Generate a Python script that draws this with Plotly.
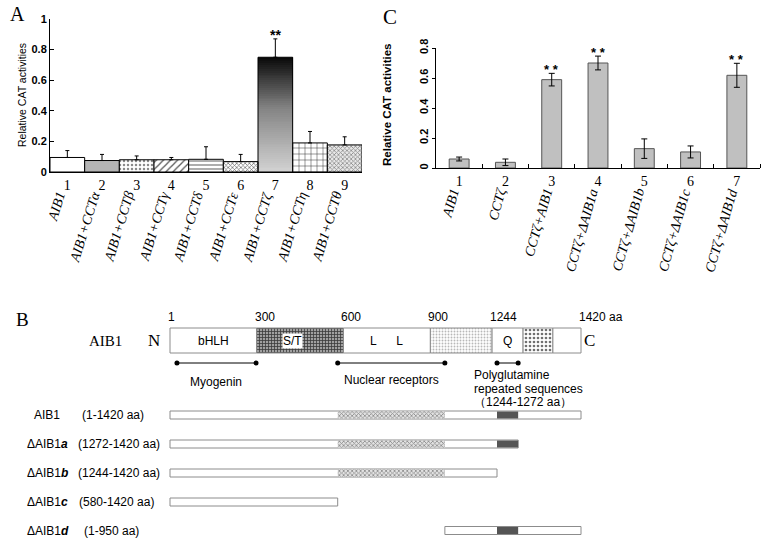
import numpy as np
import plotly.graph_objects as go

W, H = 766, 543
SERIF = "Liberation Serif"
SANS = "Liberation Sans"

# ---------------- data: panel A ----------------
A_nums = ["1", "2", "3", "4", "5", "6", "7", "8", "9"]
A_labels = ["AIB1", "AIB1+CCTα", "AIB1+CCTβ", "AIB1+CCTγ", "AIB1+CCTδ",
            "AIB1+CCTε", "AIB1+CCTζ", "AIB1+CCTη", "AIB1+CCTθ"]
A_values = [0.095, 0.075, 0.08, 0.08, 0.083, 0.068, 0.75, 0.19, 0.177]
A_err = [0.045, 0.04, 0.025, 0.015, 0.082, 0.047, 0.12, 0.075, 0.053]
A_sig = [6]
A_yticks = [0, 0.2, 0.4, 0.6, 0.8, 1]
A_yticktext = ["0", "0.2", "0.4", "0.6", "0.8", "1"]

# ---------------- data: panel C ----------------
C_nums = ["1", "2", "3", "4", "5", "6", "7"]
C_labels = ["AIB1", "CCTζ", "CCTζ+AIB1", "CCTζ+ΔAIB1a", "CCTζ+ΔAIB1b",
            "CCTζ+ΔAIB1c", "CCTζ+ΔAIB1d"]
C_values = [0.06, 0.038, 0.589, 0.70, 0.129, 0.107, 0.618]
C_err = [0.013, 0.022, 0.042, 0.046, 0.065, 0.04, 0.08]
C_sig = [2, 3, 6]
C_yticks = [0, 0.2, 0.4, 0.6, 0.8]
C_yticktext = ["0", "0.2", "0.4", "0.6", "0.8"]

# ---------------- data: panel B (schematic aa positions) ----------------
B_landmarks = ["1", "300", "600", "900", "1244", "1420 aa"]
B_landmark_pos = [1, 300, 600, 900, 1113, 1420]   # drawn (schematic) positions
B_dom_label = ["bHLH", "S/T", "L      L", "", "Q", "", ""]
B_dom_start = [1, 300, 600, 900, 1113, 1220, 1323]
B_dom_end = [300, 600, 900, 1113, 1220, 1323, 1420]
B_int_names = ["Myogenin", "Nuclear receptors", "Polyglutamine"]
B_int_start = [25, 580, 1130]
B_int_end = [298, 950, 1203]
B_con_names = ["AIB1", "ΔAIB1<b><i>a</i></b>", "ΔAIB1<b><i>b</i></b>",
               "ΔAIB1<b><i>c</i></b>", "ΔAIB1<b><i>d</i></b>"]
B_con_ranges = ["(1-1420 aa)", "(1272-1420 aa)", "(1244-1420 aa)",
                "(580-1420 aa)", "(1-950 aa)"]
B_con_start = [1, 1, 1, 1, 950]
B_con_end = [1420, 1203, 1130, 580, 1420]
B_nr_region = (580, 950)
B_polyq_region = (1130, 1203)


def fx(px):
    return px / W


def fy(py):
    return 1 - py / H


fig = go.Figure()

# ---------- panel A ----------
grad_bar = 6
nb = 60
fig.add_trace(go.Heatmap(
    x=[grad_bar - 0.5, grad_bar + 0.5],
    y=np.linspace(0, A_values[grad_bar], nb + 1),
    z=np.linspace(0, 1, nb).reshape(-1, 1),
    colorscale=[[0, "#d2d2d2"], [0.55, "#858585"], [1, "#0a0a0a"]],
    zmin=0, zmax=1, showscale=False, hoverinfo="skip",
    xaxis="x", yaxis="y"))

A_colors = ["white", "#b4b4b4", "white", "white", "white", "white",
            "rgba(0,0,0,0)", "white", "#e8e8e8"]
A_shapes = ["", "", ".", "/", "-", "x", "", "+", "x"]
A_fg = ["black", "black", "#8a8a8a", "#555555", "#777777", "#666666",
        "black", "#222222", "#8a8a8a"]
A_size = [6, 6, 4, 5, 4, 3, 6, 6, 3]
A_sol = [0.3, 0.3, 0.3, 0.25, 0.3, 0.4, 0.3, 0.15, 0.45]

for i, (v, e) in enumerate(zip(A_values, A_err)):
    pat = dict(shape=A_shapes[i], fgcolor=A_fg[i], bgcolor=A_colors[i],
               size=A_size[i], solidity=A_sol[i]) if A_shapes[i] else dict(shape="")
    fig.add_trace(go.Bar(
        x=[i], y=[v], width=1,
        marker=dict(color=A_colors[i], line=dict(color="black", width=1), pattern=pat),
        error_y=dict(type="data", array=[e], arrayminus=[0], symmetric=False,
                     color="black", thickness=1, width=2),
        xaxis="x", yaxis="y", hoverinfo="skip"))

# ---------- panel C ----------
fig.add_trace(go.Bar(
    x=list(range(len(C_values))), y=C_values, width=0.43,
    marker=dict(color="#c0c0c0", line=dict(color="#555555", width=1)),
    error_y=dict(type="data", array=C_err, color="black", thickness=1, width=3),
    xaxis="x2", yaxis="y2", hoverinfo="skip"))

# ---------- panel B ----------
ROW_MAIN = 340.5
H_MAIN = 25
ROW_CON = [415, 444, 473, 502, 530.5]
H_CON = 8
LINE_Y = 363

dom_colors = ["white", "#a0a0a0", "white", "white", "white", "white", "white"]
dom_shapes = ["", "+", "", ".", "", ".", ""]
dom_fg = ["black", "#3a3a3a", "black", "#b8b8b8", "black", "#707070", "black"]
dom_size = [4, 3, 4, 3, 4, 4, 4]
dom_sol = [0.3, 0.45, 0.3, 0.3, 0.3, 0.35, 0.3]
for i, (s, e) in enumerate(zip(B_dom_start, B_dom_end)):
    pat = dict(shape=dom_shapes[i], fgcolor=dom_fg[i], bgcolor=dom_colors[i],
               size=dom_size[i], solidity=dom_sol[i]) if dom_shapes[i] else dict(shape="")
    fig.add_trace(go.Bar(
        orientation="h", base=[s], x=[e - s], y=[ROW_MAIN], width=[H_MAIN],
        marker=dict(color=dom_colors[i], line=dict(color="#8c8c8c", width=1), pattern=pat),
        xaxis="x3", yaxis="y3", hoverinfo="skip"))

fig.add_trace(go.Bar(
    orientation="h", base=B_con_start,
    x=[e - s for s, e in zip(B_con_start, B_con_end)],
    y=ROW_CON, width=[H_CON] * len(ROW_CON),
    marker=dict(color="white", line=dict(color="#8c8c8c", width=1)),
    xaxis="x3", yaxis="y3", hoverinfo="skip"))

for s, e, r in zip(B_con_start, B_con_end, ROW_CON):
    a, b = max(s, B_nr_region[0]), min(e, B_nr_region[1])
    if b > a:
        fig.add_trace(go.Bar(
            orientation="h", base=[a], x=[b - a], y=[r], width=[H_CON - 1],
            marker=dict(color="#e0e0e0", line=dict(width=0),
                        pattern=dict(shape="x", fgcolor="#8a8a8a", bgcolor="#e2e2e2",
                                     size=3, solidity=0.45)),
            xaxis="x3", yaxis="y3", hoverinfo="skip"))
    a, b = max(s, B_polyq_region[0]), min(e, B_polyq_region[1])
    if b > a:
        fig.add_trace(go.Bar(
            orientation="h", base=[a], x=[b - a], y=[r], width=[H_CON - 1],
            marker=dict(color="#555555", line=dict(width=0)),
            xaxis="x3", yaxis="y3", hoverinfo="skip"))

for s, e in zip(B_int_start, B_int_end):
    fig.add_trace(go.Scatter(
        x=[s, e], y=[LINE_Y, LINE_Y], mode="lines+markers",
        line=dict(color="black", width=1), marker=dict(color="black", size=5),
        xaxis="x3", yaxis="y3", hoverinfo="skip", showlegend=False))

# ---------- annotations ----------
ann = []


def add(**kw):
    kw.setdefault("xanchor", "center")
    kw.setdefault("yanchor", "middle")
    kw.setdefault("showarrow", False)
    ann.append(kw)


add(text="A", x=fx(17), y=fy(14), xref="paper", yref="paper",
    font=dict(family=SERIF, size=20, color="black"))
add(text="C", x=fx(390), y=fy(17), xref="paper", yref="paper",
    font=dict(family=SERIF, size=21, color="black"))
add(text="B", x=fx(22), y=fy(319), xref="paper", yref="paper",
    font=dict(family=SERIF, size=19, color="black"))
add(text="Relative CAT activities", x=fx(22), y=fy(95),
    xref="paper", yref="paper", textangle=-90,
    font=dict(family=SANS, size=10.5, color="black"))
add(text="<b>Relative CAT activities</b>", x=fx(387), y=fy(105),
    xref="paper", yref="paper", textangle=-90,
    font=dict(family=SANS, size=11.5, color="black"))
for i, lab in enumerate(A_labels):
    add(text="<i>" + lab + "</i>", x=i, y=fy(187), xref="x", yref="paper",
        xanchor="right", yanchor="top", xshift=3, textangle=-73,
        font=dict(family=SERIF, size=14, color="black"))
for i, lab in enumerate(C_labels):
    add(text="<i>" + lab + "</i>", x=i, y=fy(184), xref="x2", yref="paper",
        xanchor="right", yanchor="top", xshift=6, textangle=-74,
        font=dict(family=SERIF, size=14, color="black"))
for i in A_sig:
    add(text="<b>**</b>", x=i, y=A_values[i] + A_err[i], xref="x", yref="y",
        yanchor="bottom", yshift=-6, font=dict(family=SANS, size=14, color="black"))
for i in C_sig:
    add(text="<b>* *</b>", x=i, y=C_values[i] + C_err[i], xref="x2", yref="y2",
        yanchor="bottom", yshift=-6, font=dict(family=SANS, size=13, color="black"))

add(text="AIB1", x=fx(105), y=ROW_MAIN, xref="paper", yref="y3",
    font=dict(family=SERIF, size=15, color="black"))
add(text="N", x=fx(154), y=ROW_MAIN, xref="paper", yref="y3",
    font=dict(family=SERIF, size=17, color="black"))
add(text="C", x=B_dom_end[-1], y=ROW_MAIN, xref="x3", yref="y3",
    xanchor="left", xshift=1, font=dict(family=SERIF, size=17, color="black"))
for lab, pos in zip(B_landmarks, B_landmark_pos):
    add(text=lab, x=pos, y=317, xref="x3", yref="y3", xanchor="left", xshift=-4,
        font=dict(family=SANS, size=12, color="black"))
for lab, s, e in zip(B_dom_label, B_dom_start, B_dom_end):
    if not lab:
        continue
    extra = {}
    if lab == "S/T":
        extra = dict(bgcolor="white", borderpad=0, xshift=-8)
    add(text=lab, x=(s + e) / 2, y=ROW_MAIN, xref="x3", yref="y3",
        font=dict(family=SANS, size=12, color="black"), **extra)
add(text=B_int_names[0], x=(B_int_start[0] + B_int_end[0]) / 2, y=382,
    xref="x3", yref="y3", font=dict(family=SANS, size=12, color="black"))
add(text=B_int_names[1], x=(B_int_start[1] + B_int_end[1]) / 2, y=380,
    xref="x3", yref="y3", font=dict(family=SANS, size=12, color="black"))
for txt, yy in zip([B_int_names[2], "repeated sequences", "（1244-1272 aa）"],
                   [375, 388.5, 402]):
    add(text=txt, x=fx(472), y=yy, xref="paper", yref="y3", xanchor="left",
        font=dict(family=SANS, size=12, color="black"))
name_x = [32, 25, 25, 25, 25]
range_x = [80, 76, 76, 77, 82]
for nm, rg, r, nx, rx in zip(B_con_names, B_con_ranges, ROW_CON, name_x, range_x):
    add(text=nm, x=fx(nx), y=r, xref="paper", yref="y3", xanchor="left",
        font=dict(family=SANS, size=12, color="black"))
    add(text=rg, x=fx(rx), y=r, xref="paper", yref="y3", xanchor="left",
        font=dict(family=SANS, size=12, color="black"))

scale = (581 - 170) / (1420 - 1)
r0 = 1 - 170 / scale
r1 = r0 + W / scale

axis_common = dict(showgrid=False, zeroline=False, automargin=False, fixedrange=True)

fig.update_layout(
    width=W, height=H, margin=dict(l=0, r=0, t=0, b=0),
    paper_bgcolor="white", plot_bgcolor="rgba(0,0,0,0)",
    showlegend=False, barmode="overlay", template="none",
    xaxis=dict(domain=[fx(50), fx(362)], range=[-0.5, 8.5], anchor="y",
               tickmode="array", tickvals=list(range(9)), ticktext=A_nums,
               ticks="", showline=True, linecolor="black", linewidth=1,
               tickfont=dict(family=SERIF, size=14, color="black"), **axis_common),
    yaxis=dict(domain=[fy(172), fy(19)], range=[0, 1], anchor="x",
               tickmode="array", tickvals=A_yticks, ticktext=A_yticktext,
               ticks="inside", ticklen=4, tickcolor="black", showline=True,
               linecolor="black", linewidth=1,
               tickfont=dict(family=SANS, size=11, color="black", weight="bold"),
               **axis_common),
    xaxis2=dict(domain=[fx(436), fx(760)], range=[-0.5, 6.5], anchor="y2",
                tickmode="array", tickvals=list(range(7)), ticktext=C_nums,
                ticks="", showline=True, linecolor="black", linewidth=1,
                minor=dict(tickmode="array", tickvals=[i + 0.5 for i in range(7)],
                           ticks="inside", ticklen=4, tickcolor="black", showgrid=False),
                tickfont=dict(family=SERIF, size=14, color="black"), **axis_common),
    yaxis2=dict(domain=[fy(168), fy(48)], range=[0, 0.8], anchor="x2",
                tickmode="array", tickvals=C_yticks, ticktext=C_yticktext,
                ticks="outside", ticklen=3, tickcolor="black", showline=True,
                linecolor="black", linewidth=1, tickangle=-90,
                tickfont=dict(family=SANS, size=11, color="black", weight="bold"),
                **axis_common),
    xaxis3=dict(domain=[0, 1], range=[r0, r1], anchor="y3", visible=False, **axis_common),
    yaxis3=dict(domain=[0, 1], range=[H, 0], anchor="x3", visible=False, **axis_common),
    annotations=ann,
)

fig.write_html("out.html", config={"displayModeBar": False},
               post_script="document.body.style.margin='0';document.body.style.padding='0';")
